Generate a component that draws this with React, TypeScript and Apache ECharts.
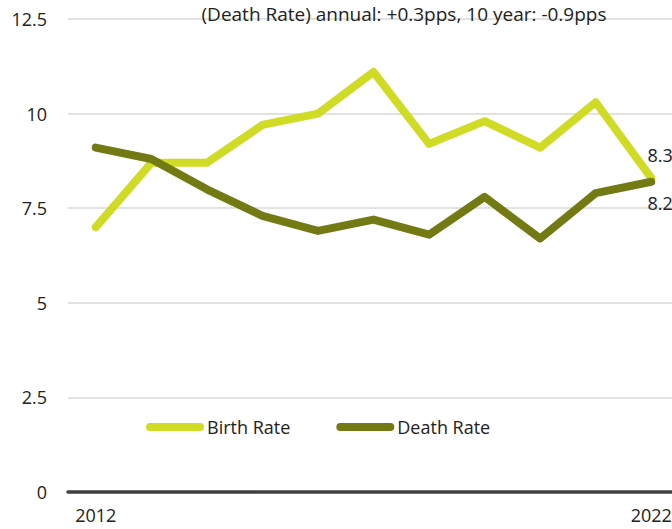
import React, { useEffect, useRef } from "react";
import * as echarts from "echarts";

const years = ["2012", "2013", "2014", "2015", "2016", "2017", "2018", "2019", "2020", "2021", "2022"];
const birthRate = [7.0, 8.7, 8.7, 9.7, 10.0, 11.1, 9.2, 9.8, 9.1, 10.3, 8.3];
const deathRate = [9.1, 8.8, 8.0, 7.3, 6.9, 7.2, 6.8, 7.8, 6.7, 7.9, 8.2];
const yTicks = { min: 0, max: 12.5, interval: 2.5 };
const subtitle = "(Death Rate) annual: +0.3pps, 10 year: -0.9pps";

const FONT = "Open Sans";
const TEXT = "#222";
const BIRTH_COLOR = "#D0DB26";
const DEATH_COLOR = "#737A14";
const pill = "path://M4,0 H54 A4,4 0 0 1 54,8 H4 A4,4 0 0 1 4,0 Z";

function endPoint(v: number, isLast: boolean, pos: "top" | "bottom", offset: number[]) {
  if (!isLast) return { value: v, symbol: "none" };
  return {
    value: v,
    symbol: "circle",
    symbolSize: 1,
    label: {
      show: true,
      position: pos,
      distance: 5,
      offset,
      formatter: (p: any) => Number(p.value).toFixed(1),
      fontFamily: FONT,
      fontSize: 18,
      color: TEXT,
    },
  };
}

export default function App() {
  const ref = useRef<HTMLDivElement>(null);
  useEffect(() => {
    if (!ref.current) return;
    const chart = echarts.init(ref.current, undefined, { renderer: "svg" });
    const last = years.length - 1;
    chart.setOption({
      animation: false,
      textStyle: { fontFamily: FONT },
      title: {
        text: subtitle,
        left: 399,
        top: -1,
        textAlign: "center",
        textStyle: { fontFamily: FONT, fontSize: 19, fontWeight: "normal", color: TEXT },
      },
      legend: {
        left: 141,
        top: 413,
        itemWidth: 58,
        itemHeight: 8,
        itemGap: 46,
        icon: pill,
        textStyle: { fontFamily: FONT, fontSize: 18, color: TEXT, padding: [0, 0, 0, -2] },
        data: ["Birth Rate", "Death Rate"],
      },
      grid: { left: 68, right: 0, top: 19, bottom: 37, containLabel: false },
      xAxis: {
        type: "category",
        data: years,
        boundaryGap: true,
        axisLine: { show: true, lineStyle: { color: "#404040", width: 3.5 } },
        axisTick: { show: false },
        axisLabel: {
          interval: (i: number) => i === 0 || i === last,
          fontFamily: FONT,
          fontSize: 18,
          color: TEXT,
          margin: 14,
        },
        splitLine: { show: false },
      },
      yAxis: {
        type: "value",
        min: yTicks.min,
        max: yTicks.max,
        interval: yTicks.interval,
        axisLine: { show: false },
        axisTick: { show: false },
        axisLabel: { fontFamily: FONT, fontSize: 18, color: TEXT, margin: 21 },
        splitLine: { lineStyle: { color: "#D9D9D9", width: 1.5 } },
      },
      series: [
        {
          name: "Birth Rate",
          type: "line",
          data: birthRate.map((v, i) => endPoint(v, i === last, "top", [9, -8])),
          showSymbol: true,
          showAllSymbol: true,
          symbol: "none",
          itemStyle: { color: BIRTH_COLOR },
          lineStyle: { color: BIRTH_COLOR, width: 8, cap: "round", join: "round" },
        },
        {
          name: "Death Rate",
          type: "line",
          data: deathRate.map((v, i) => endPoint(v, i === last, "bottom", [9, 7])),
          showSymbol: true,
          showAllSymbol: true,
          symbol: "none",
          itemStyle: { color: DEATH_COLOR },
          lineStyle: { color: DEATH_COLOR, width: 8, cap: "round", join: "round" },
        },
      ],
    });
    return () => chart.dispose();
  }, []);
  return (
    <div
      style={{
        position: "fixed",
        left: 0,
        top: 0,
        width: 672,
        height: 529,
        overflow: "hidden",
        background: "#fff",
      }}
    >
      <div ref={ref} style={{ width: 679, height: 529 }} />
    </div>
  );
}
